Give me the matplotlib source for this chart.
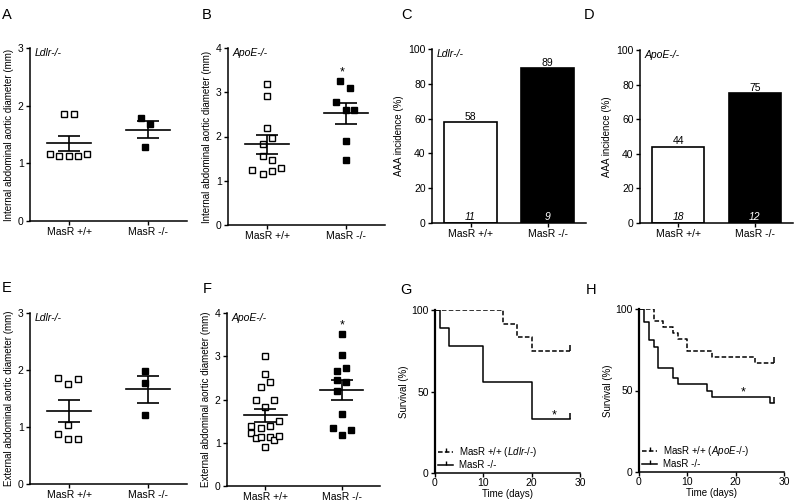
import numpy as np
import matplotlib
matplotlib.use('Agg')
import matplotlib.pyplot as plt
from matplotlib.lines import Line2D

plt.rcParams['font.family'] = ['Liberation Sans', 'DejaVu Sans']
plt.rcParams['mathtext.fontset'] = 'custom'
plt.rcParams['mathtext.rm'] = 'Liberation Sans'
plt.rcParams['mathtext.it'] = 'Liberation Sans:italic'
plt.rcParams['axes.linewidth'] = 1.1

groups = ['MasR +/+', 'MasR -/-']

# A - internal diameter, Ldlr-/-
a_wt = [1.85, 1.85, 1.17, 1.13, 1.13, 1.13, 1.17]
a_wt_dx = [-0.07, 0.055, -0.24, -0.13, 0.0, 0.11, 0.23]
a_ko = [1.78, 1.69, 1.29]
a_ko_dx = [-0.09, 0.03, -0.04]

# B - internal diameter, ApoE-/-
b_wt = [3.18, 2.91, 2.2, 1.96, 1.83, 1.57, 1.47, 1.25, 1.16, 1.22, 1.28]
b_wt_dx = [0, 0, 0, 0.06, -0.06, -0.06, 0.06, -0.19, -0.06, 0.06, 0.18]
b_ko = [3.26, 3.09, 2.77, 2.59, 2.6, 1.89, 1.46]
b_ko_dx = [-0.075, 0.05, -0.125, 0, 0.11, 0, 0]

# C, D - AAA incidence (%) and n
c_vals = [58, 89]
c_n = ['11', '9']
d_vals = [44, 75]
d_n = ['18', '12']

# E - external diameter, Ldlr-/-
e_wt = [1.86, 1.75, 1.85, 1.04, 0.88, 0.79, 0.79]
e_wt_dx = [-0.14, -0.02, 0.11, -0.02, -0.14, -0.02, 0.11]
e_ko = [1.99, 1.78, 1.21]
e_ko_dx = [-0.04, -0.04, -0.04]

# F - external diameter, ApoE-/-
f_wt = [3.0, 2.6, 2.4, 2.29, 1.99, 1.99, 1.82, 1.51, 1.39, 1.35, 1.39,
        1.23, 1.10, 1.13, 1.13, 1.06, 1.15, 0.90]
f_wt_dx = [0, 0, 0.06, -0.06, -0.12, 0.12, 0, 0.18, -0.18, -0.06, 0.06,
           -0.18, -0.12, -0.06, 0.06, 0.12, 0.18, 0]
f_ko = [3.52, 3.02, 2.73, 2.67, 2.44, 2.40, 2.19, 1.67, 1.34, 1.30, 1.18]
f_ko_dx = [0, 0, 0.06, -0.06, -0.06, 0.06, -0.06, 0, -0.12, 0.12, 0]

# G, H - survival (days, %)
g_wt_t = [0, 14, 17, 20, 28]
g_wt_s = [100, 91.7, 83.3, 75, 75]
g_ko_t = [0, 1, 3, 10, 20, 28]
g_ko_s = [100, 88.9, 77.8, 55.6, 33.3, 33.3]
h_wt_t = [0, 3, 5, 7, 8, 10, 15, 24, 28]
h_wt_s = [100, 92.6, 88.9, 85.2, 81.5, 74.1, 70.4, 66.7, 66.7]
h_ko_t = [0, 1, 2, 3, 4, 7, 8, 14, 15, 27, 28]
h_ko_s = [100, 92.3, 80.8, 76.9, 64.0, 57.7, 53.8, 50.0, 46.2, 42.3, 42.3]

W, H = 800, 501
fig = plt.figure(figsize=(8, 5.01), dpi=100)


def add_ax(x0, x1, ytop, ybot):
    return fig.add_axes([x0 / W, 1 - ybot / H, (x1 - x0) / W, (ybot - ytop) / H])


def style(ax, fs=7.5):
    for s in ['top', 'right']:
        ax.spines[s].set_visible(False)
    ax.tick_params(direction='out', length=3, width=1, labelsize=fs, pad=1.5)


def dot_panel(ax, wt, wt_dx, ko, ko_dx, ymax, ylabel, strain, star=None):
    ax.plot(np.array(wt_dx), wt, 's', mfc='white', mec='black', mew=1.0, ms=4.8, zorder=2)
    ax.plot(1 + np.array(ko_dx), ko, 's', mfc='black', mec='black', mew=1.0, ms=4.8, zorder=2)
    for i, vals in enumerate([wt, ko]):
        m = np.mean(vals)
        s = np.std(vals, ddof=1) / np.sqrt(len(vals))
        ax.plot([i - 0.28, i + 0.28], [m, m], color='black', lw=1.2, zorder=3)
        ax.errorbar(i, m, yerr=s, color='black', lw=1.2, capsize=8, capthick=1.2, zorder=3)
    if star is not None:
        ax.text(star[0], star[1], '*', ha='center', va='center', fontsize=9)
    ax.set_xlim(-0.5, 1.5)
    ax.set_ylim(0, ymax)
    ax.set_yticks(range(0, ymax + 1))
    ax.set_xticks([0, 1])
    ax.set_xticklabels(groups)
    ax.set_ylabel(ylabel, fontsize=7, labelpad=3)
    ax.text(0.03, 1.0, strain, transform=ax.transAxes, style='italic', fontsize=7.5, va='top')
    style(ax)


def bar_panel(ax, vals, ns, strain):
    ax.bar([0, 1], vals, width=0.68, color=['white', 'black'], edgecolor='black', lw=1.2)
    for i, (v, n) in enumerate(zip(vals, ns)):
        ax.text(i, v + 0.3, str(v), ha='center', va='bottom', fontsize=7.5)
        ax.text(i, 0.8, n, ha='center', va='bottom', fontsize=7.5, style='italic',
                color='black' if i == 0 else 'white')
    ax.set_xlim(-0.5, 1.5)
    ax.set_ylim(0, 100)
    ax.set_yticks(range(0, 101, 20))
    ax.set_xticks([0, 1])
    ax.set_xticklabels(groups)
    ax.set_ylabel('AAA incidence (%)', fontsize=7, labelpad=3)
    ax.text(0.03, 1.0, strain, transform=ax.transAxes, style='italic', fontsize=7.5, va='top')
    style(ax)


def surv_panel(ax, wt_t, wt_s, ko_t, ko_s, strain, star):
    ax.step(wt_t, wt_s, where='post', color='black', lw=1.1, ls=(0, (3, 1.5)))
    ax.step(ko_t, ko_s, where='post', color='black', lw=1.1)
    ax.plot(wt_t[-1], wt_s[-1], marker=2, color='black', ms=4, mew=1.1)
    ax.plot(ko_t[-1], ko_s[-1], marker=2, color='black', ms=4, mew=1.1)
    ax.text(star[0], star[1], '*', ha='center', va='center', fontsize=9)
    handles = [Line2D([], [], color='black', lw=1.1, ls=(0, (3, 1.5)), marker=2, ms=3),
               Line2D([], [], color='black', lw=1.1, marker=2, ms=3)]
    labels = ['MasR +/+ ($\\it{' + strain + '}$-/-)', 'MasR -/-']
    ax.legend(handles, labels, loc='lower left', frameon=False, fontsize=7,
              handlelength=1.6, handletextpad=0.6, labelspacing=0.1,
              borderaxespad=0.1, borderpad=0.2)
    ax.set_xlim(0, 30)
    ax.set_ylim(0, 100)
    ax.set_xticks([0, 10, 20, 30])
    ax.set_yticks([0, 50, 100])
    ax.set_xlabel('Time (days)', fontsize=7, labelpad=0.5)
    ax.set_ylabel('Survival (%)', fontsize=7, labelpad=2)
    style(ax)
    ax.tick_params(axis='x', pad=0.5)
    ax.spines['left'].set_linewidth(1.6)


axA = add_ax(30, 187, 48, 221)
dot_panel(axA, a_wt, a_wt_dx, a_ko, a_ko_dx, 3,
          'Internal abdominal aortic diameter (mm)', 'Ldlr-/-')
axB = add_ax(228, 385, 48, 225)
dot_panel(axB, b_wt, b_wt_dx, b_ko, b_ko_dx, 4,
          'Internal abdominal aortic diameter (mm)', 'ApoE-/-', star=(0.96, 3.45))
axC = add_ax(432, 586, 49, 223)
bar_panel(axC, c_vals, c_n, 'Ldlr-/-')
axD = add_ax(640, 793, 50, 223)
bar_panel(axD, d_vals, d_n, 'ApoE-/-')
axE = add_ax(30, 187, 313, 484)
dot_panel(axE, e_wt, e_wt_dx, e_ko, e_ko_dx, 3,
          'External abdominal aortic diameter (mm)', 'Ldlr-/-')
axF = add_ax(227, 380, 313, 486)
dot_panel(axF, f_wt, f_wt_dx, f_ko, f_ko_dx, 4,
          'External abdominal aortic diameter (mm)', 'ApoE-/-', star=(1.0, 3.71))
axG = add_ax(435, 580, 310, 473)
surv_panel(axG, g_wt_t, g_wt_s, g_ko_t, g_ko_s, 'Ldlr', (24.7, 35.2))
axH = add_ax(639, 784, 309, 472)
surv_panel(axH, h_wt_t, h_wt_s, h_ko_t, h_ko_s, 'ApoE', (21.6, 48.8))

for lab, x, y in [('A', 7, 15), ('B', 207, 15), ('C', 407, 15), ('D', 589, 15),
                  ('E', 7, 288), ('F', 207, 289), ('G', 406, 290), ('H', 591, 290)]:
    fig.text(x / W, 1 - y / H, lab, fontsize=10.5, ha='center', va='center')

fig.savefig('out.png', dpi=100)
